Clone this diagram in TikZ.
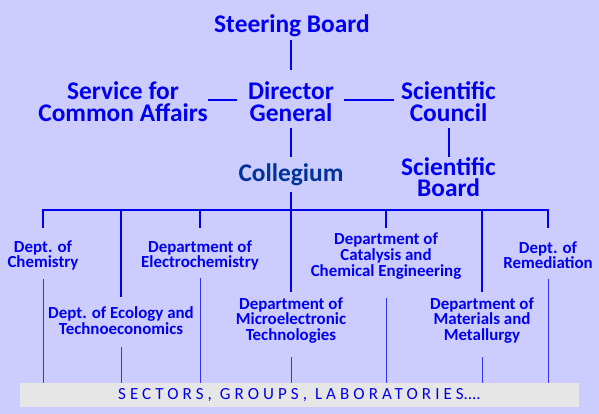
\documentclass[tikz,border=0pt]{standalone}
\usepackage{fontspec}
\setmainfont{Carlito}
\definecolor{bgc}{HTML}{CCCCFF}
\definecolor{tb}{HTML}{0000EE}
\definecolor{cb}{HTML}{003399}
\definecolor{barc}{HTML}{E6E6E6}
\begin{document}
\begin{tikzpicture}[x=1pt,y=-1pt,
  big/.style={font=\bfseries\fontsize{25.4}{21.7}\selectfont, text=tb, align=center, inner sep=0pt, anchor=base},
  dept/.style={font=\bfseries\fontsize{16.9}{15.7}\selectfont, text=tb, align=center, inner sep=0pt, anchor=base},
  link/.style={draw=tb, line width=2pt},
  thinlink/.style={draw=tb!75!bgc, line width=1pt}]
\fill[bgc] (0,0) rectangle (599,414);
\useasboundingbox (0,0) rectangle (599,414);

% anchor=base is the baseline of the last line
\node[big] (steer) at (292,32.3) {Steering Board};
\node[big] (svc) at (123,121.7) {Service for\\Common Affairs};
\node[big] (dir) at (291,121.7) {Director\\General};
\node[big] (sci) at (448.5,121.7) {Scientific\\Council};
\node[big, text=cb] (coll) at (291,182) {Collegium};
\node[big] (sb) at (448.5,196.7) {Scientific\\Board};

\node[dept] (chem) at (43,267.7) {Dept. of\\Chemistry};
\node[dept] (eco) at (121,334.3) {Dept. of Ecology and\\Technoeconomics};
\node[dept] (elec) at (200,267.7) {Department of\\Electrochemistry};
\node[dept] (micro) at (291,340.5) {Department of\\Microelectronic\\Technologies};
\node[dept] (cat) at (386,276) {Department of\\Catalysis and\\Chemical Engineering};
\node[dept] (mat) at (482,340.5) {Department of\\Materials and\\Metallurgy};
\node[dept] (rem) at (548,268.7) {Dept. of\\Remediation};

\node[fill=barc, minimum width=559pt, minimum height=24pt, inner sep=0pt,
  font=\fontsize{17}{17}\selectfont, text=tb] (bar) at (299.5,395)
  {{\addfontfeatures{LetterSpace=24}SECTORS, GROUPS, LABORATORIES}....};

% top connectors
\draw[link] (291,40) -- (291,70);
\draw[link] (208,100) -- (237,100);
\draw[link] (344,100) -- (394,100);
\draw[link] (291,128) -- (291,157);
\draw[link] (448.7,128) -- (448.7,157);
% bus
\coordinate (b1) at (43,210);
\coordinate (b2) at (121,210);
\coordinate (b3) at (200,210);
\coordinate (b4) at (291,210);
\coordinate (b5) at (386,210);
\coordinate (b6) at (482,210);
\coordinate (b7) at (548,210);
\draw[link] (291,192) -- (b4);
\draw[link] ([yshift=-18pt]b1) -- (b1) -- (b7) -- ([yshift=-18pt]b7);
\draw[link] (b2) -- ++(0,87);
\draw[link] (b3) -- ++(0,18);
\draw[link] (b4) -- ++(0,82);
\draw[link] (b5) -- ++(0,18);
\draw[link] (b6) -- ++(0,82);
% thin lines to bar
\draw[thinlink] (b1 |- 0,279) -- (b1 |- bar.north);
\draw[thinlink] (b2 |- 0,347) -- (b2 |- bar.north);
\draw[thinlink] (b3 |- 0,278) -- (b3 |- bar.north);
\draw[thinlink] (b4 |- 0,357) -- (b4 |- bar.north);
\draw[thinlink] (b5 |- 0,298) -- (b5 |- bar.north);
\draw[thinlink] (b6 |- 0,357) -- (b6 |- bar.north);
\draw[thinlink] (b7 |- 0,279) -- (b7 |- bar.north);
\end{tikzpicture}
\end{document}
